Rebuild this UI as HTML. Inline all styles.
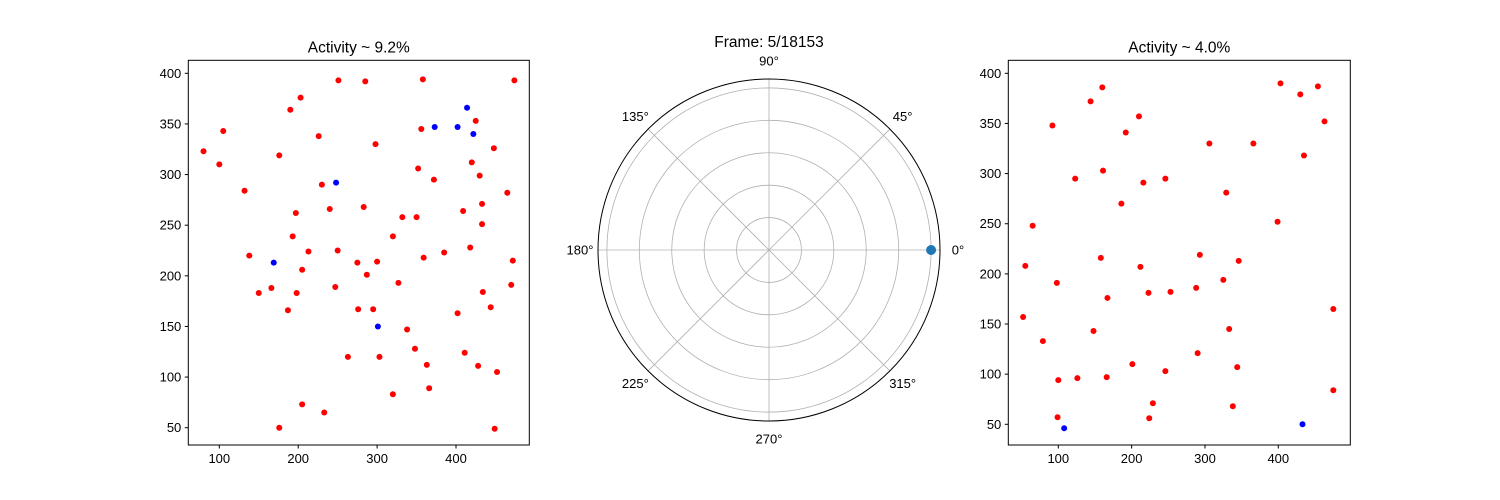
<!DOCTYPE html>
<html><head><meta charset="utf-8"><style>
html,body{margin:0;padding:0;background:#fff;}
svg{display:block;font-family:"Liberation Sans","DejaVu Sans",sans-serif;}
</style></head><body>
<svg id="fig" width="1500" height="500" viewBox="0 0 1500 500" xmlns="http://www.w3.org/2000/svg"></svg>
<script>
// ---- data ----
const leftTitle = "Activity ~ 9.2%";
const rightTitle = "Activity ~ 4.0%";
const polarTitle = "Frame: 5/18153";
const leftRedX = [80,100,105,132,138,150,166,176,187,190,193,197,198,203,205,205,213,226,230,233,240,247,250,251,275,276,283,285,287,295,298,300,303,263,320,320,327,332,338,348,350,352,356,359,358,363,366,372,385,402,409,411,418,420,425,428,430,433,433,434,444,448,449,452,465,470,472,474,176];
const leftRedY = [323,310,343,284,220,183,188,319,166,364,239,262,183,376,206,73,224,338,290,65,266,189,225,393,213,167,268,392,201,167,330,214,120,120,239,83,193,258,147,128,258,306,345,218,394,112,89,295,223,163,264,124,228,312,353,111,299,271,251,184,169,326,49,105,282,191,215,393,50];
const leftBlueX = [169,248,301,373,402,414,422];
const leftBlueY = [213,292,150,347,347,366,340];
const rightRedX = [52,55,65,79,92,98,99,100,123,126,144,148,158,160,161,167,166,186,192,201,210,212,216,223,224,229,246,246,253,288,290,293,306,325,329,333,338,344,346,366,399,403,430,435,454,463,475,475];
const rightRedY = [157,208,248,133,348,191,57,94,295,96,372,143,216,386,303,176,97,270,341,110,357,207,291,181,56,71,295,103,182,186,121,219,330,194,281,145,68,107,213,330,252,390,379,318,387,352,165,84];
const rightBlueX = [108,433];
const rightBlueY = [46,50];
const ticksX = [100,200,300,400];
const ticksYLeft = [50,100,150,200,250,300,350,400];
const ticksYRight = [50,100,150,200,250,300,350,400];
const polarR = [1.0];
const polarTheta = [0];
const polarRings = [0.2,0.4,0.6,0.8,1.0];
const polarAngles = [0,45,90,135,180,225,270,315];

const NS="http://www.w3.org/2000/svg";
const svg=document.getElementById('fig');
function mk(tag,attrs,parent){const e=document.createElementNS(NS,tag);for(const k in attrs)e.setAttribute(k,attrs[k]);(parent||svg).appendChild(e);return e;}

function scatterPanel(name,box,xlim,ylim,title,rx,ry,bx,by,yt){
  const g=mk('g',{});
  
  
  const sx=v=>box.x+(v-xlim[0])/(xlim[1]-xlim[0])*box.w;
  const sy=v=>box.y+box.h-(v-ylim[0])/(ylim[1]-ylim[0])*box.h;
  for(let i=0;i<rx.length;i++){
    const c=mk('circle',{cx:sx(rx[i]),cy:sy(ry[i]),r:3,fill:'#ff0000'},g);
    
    
  }
  for(let i=0;i<bx.length;i++){
    const c=mk('circle',{cx:sx(bx[i]),cy:sy(by[i]),r:3,fill:'#0000ff'},g);
    
    
  }
  const fr=mk('rect',{x:box.x,y:box.y,width:box.w,height:box.h,fill:'none',stroke:'#000','stroke-width':1},g);
  
  
  ticksX.forEach(t=>{
    const x=sx(t);
    mk('line',{x1:x,x2:x,y1:box.y+box.h,y2:box.y+box.h+3.5,stroke:'#000'},g);
    const tx=mk('text',{x:x,y:box.y+box.h+18,'text-anchor':'middle','font-size':13},g);
    tx.textContent=t;
    
    
  });
  yt.forEach(t=>{
    const y=sy(t);
    mk('line',{x1:box.x,x2:box.x-3.5,y1:y,y2:y,stroke:'#000'},g);
    const tx=mk('text',{x:box.x-7,y:y+4.5,'text-anchor':'end','font-size':13},g);
    tx.textContent=t;
    
    
  });
  const tt=mk('text',{x:box.x+box.w/2,y:box.y-8,'text-anchor':'middle','font-size':15.5},g);
  tt.textContent=title;
  
  
}

// left: x ticks 100@219.3, 400@456 ; y 400@73.3, 50@427.7
(function(){
  const px=(456-219.3)/300;
  const xl=[100-(219.3-188.3)/px,100+(529.3-219.3)/px];
  const py=(427.7-73.3)/350;
  const yl=[50-(445-427.7)/py,400+(73.3-60.3)/py];
  scatterPanel('left-scatter',{x:188.3,y:60.3,w:341,h:384.7},xl,yl,leftTitle,leftRedX,leftRedY,leftBlueX,leftBlueY,ticksYLeft);
})();
(function(){
  const px=(1278.3-1058.3)/300;
  const xl=[100-(1058.3-1008.3)/px,100+(1350.3-1058.3)/px];
  const py=(424.3-73.3)/350;
  const yl=[50-(445-424.3)/py,400+(73.3-60.3)/py];
  scatterPanel('right-scatter',{x:1008.3,y:60.3,w:342,h:384.7},xl,yl,rightTitle,rightRedX,rightRedY,rightBlueX,rightBlueY,ticksYRight);
})();

// polar
(function(){
  const cx=769,cy=250,R=171,rmax=1.055;
  const g=mk('g',{});
  
  
  const rs=v=>v/rmax*R;
  polarRings.forEach(r=>{
    const c=mk('circle',{cx:cx,cy:cy,r:rs(r),fill:'none',stroke:'#b0b0b0','stroke-width':0.8},g);
    
    
  });
  polarAngles.forEach(a=>{
    const t=a*Math.PI/180;
    mk('line',{x1:cx,y1:cy,x2:cx+R*Math.cos(t),y2:cy-R*Math.sin(t),stroke:'#b0b0b0','stroke-width':0.8},g);
    const lr=R+18;
    const tx=mk('text',{x:cx+lr*Math.cos(t),y:cy-lr*Math.sin(t)+4.5,'text-anchor':'middle','font-size':13},g);
    tx.textContent=a+'°';
    
    
  });
  const oc=mk('circle',{cx:cx,cy:cy,r:R,fill:'none',stroke:'#000','stroke-width':1},g);
  
  
  for(let i=0;i<polarR.length;i++){
    const t=polarTheta[i]*Math.PI/180;
    const p=mk('circle',{cx:cx+rs(polarR[i])*Math.cos(t),cy:cy-rs(polarR[i])*Math.sin(t),r:5,fill:'#1f77b4'},g);
    
    
  }
  const tt=mk('text',{x:cx,y:47,'text-anchor':'middle','font-size':15.5},g);
  tt.textContent=polarTitle;
  
  
})();
</script>
</body></html>
